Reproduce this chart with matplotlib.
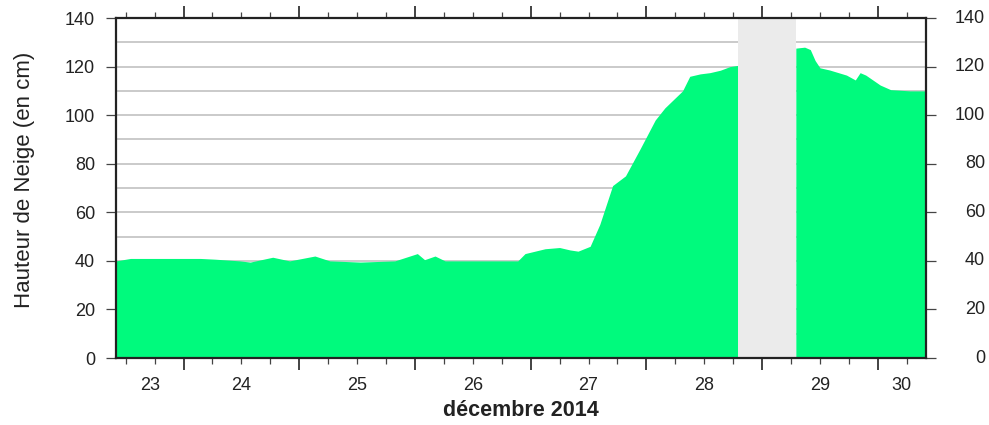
import matplotlib
matplotlib.use("Agg")
import matplotlib.pyplot as plt
import matplotlib.dates as mdates
import matplotlib.transforms as mtransforms
import numpy as np
import pandas as pd

plt.rcParams['font.family'] = ['Liberation Sans', 'DejaVu Sans']

# snow depth (cm)
times_before = ["2014-12-23 10:00", "2014-12-23 13:00", "2014-12-24 03:30", "2014-12-24 06:30",
                "2014-12-24 11:40", "2014-12-24 13:50", "2014-12-24 18:30", "2014-12-24 22:00",
                "2014-12-25 03:15", "2014-12-25 06:20", "2014-12-25 12:40", "2014-12-25 19:50",
                "2014-12-26 00:30", "2014-12-26 02:00", "2014-12-26 04:10", "2014-12-26 06:15",
                "2014-12-26 21:20", "2014-12-26 22:50", "2014-12-27 03:00", "2014-12-27 06:00",
                "2014-12-27 08:10", "2014-12-27 09:50", "2014-12-27 12:20", "2014-12-27 14:20",
                "2014-12-27 17:00", "2014-12-27 19:40", "2014-12-27 22:40", "2014-12-28 01:50",
                "2014-12-28 03:50", "2014-12-28 07:30", "2014-12-28 09:00", "2014-12-28 11:10",
                "2014-12-28 13:10", "2014-12-28 15:20", "2014-12-28 17:20", "2014-12-28 19:00"]
depth_before = [40, 41, 41, 40.7, 40, 39.5, 41.5, 40, 42, 40, 39.5, 40,
                43, 40.5, 42, 40, 40, 43, 45, 45.5, 44.5, 44, 46, 55,
                71, 75, 86, 98, 103, 110, 116, 117, 117.5, 118.5, 120, 120.5]

times_after = ["2014-12-29 07:00", "2014-12-29 08:50", "2014-12-29 10:00", "2014-12-29 11:00",
               "2014-12-29 12:00", "2014-12-29 14:00", "2014-12-29 17:30", "2014-12-29 19:20",
               "2014-12-29 20:20", "2014-12-29 21:30", "2014-12-30 00:30", "2014-12-30 02:40",
               "2014-12-30 06:40", "2014-12-30 10:00"]
depth_after = [127.6, 128, 127, 122.5, 119.5, 118.6, 116.5, 114.5,
               117.5, 116.5, 112.4, 110.5, 110, 110]

gap_start = "2014-12-28 19:00"
gap_end = "2014-12-29 07:00"
x_start = "2014-12-23 10:00"
x_end = "2014-12-30 10:00"
day_labels = ["23", "24", "25", "26", "27", "28", "29", "30"]
y_ticks = [0, 20, 40, 60, 80, 100, 120, 140]

t0 = pd.Timestamp(x_start)
t1 = pd.Timestamp(x_end)

fig = plt.figure(figsize=(9.89, 4.25), dpi=100)
ax = fig.add_axes([0.1173, 0.1576, 0.8190, 0.8000])

green = '#00fa7d'
for ts, vals in [(times_before, depth_before), (times_after, depth_after)]:
    tt = pd.to_datetime(ts)
    ax.fill_between(tt, 0, vals, color=green, linewidth=0, zorder=2)

ax.axvspan(pd.Timestamp(gap_start), pd.Timestamp(gap_end), color='#ebebeb', zorder=3, linewidth=0)

for y in range(10, 140, 10):
    ax.axhline(y, color='#bcbcbc', linewidth=1.1, zorder=1)

ax.set_xlim(t0, t1)
ax.set_ylim(0, 140)

ax.xaxis.set_major_locator(mdates.DayLocator())
ax.xaxis.set_minor_locator(mdates.HourLocator(byhour=[0, 6, 12, 18]))
ax.xaxis.set_major_formatter(plt.NullFormatter())
ax.tick_params(axis='x', which='major', direction='out', length=8.5, width=1.2,
               top=True, bottom=True, color='#222222')
ax.tick_params(axis='x', which='minor', direction='out', length=4.5, width=0.9,
               top=True, bottom=True, color='#444444')

ax.set_yticks(y_ticks)
ax.tick_params(axis='y', direction='out', length=7, width=0.9, left=True, right=True,
               labelleft=True, labelright=False, labelsize=13, color='#444444',
               labelcolor='#222222', pad=8)

# right-hand labels, right-aligned near the figure edge
blend = mtransforms.blended_transform_factory(ax.transAxes, ax.transData)
for v in y_ticks:
    ax.text(1.0728, v, str(v), transform=blend, ha='right', va='center',
            fontsize=13, color='#222222', clip_on=False)

for s in ax.spines.values():
    s.set_linewidth(1.6)
    s.set_color('#222222')
    s.set_zorder(5)

# day labels centred on the visible part of each day
days = pd.date_range("2014-12-23", periods=len(day_labels), freq="D")
for d, lab in zip(days, day_labels):
    a = max(d, t0)
    b = min(d + pd.Timedelta(days=1), t1)
    mid = a + (b - a) / 2
    ax.text(mdates.date2num(mid), -11.2, lab, ha='center', va='center', fontsize=13,
            color='#222222', clip_on=False)

ax.text(0.5, -0.153, "décembre 2014", transform=ax.transAxes, ha='center', va='center',
        fontsize=15.5, fontweight='bold', color='#222222')

ax.set_ylabel("Hauteur de Neige (en cm)", fontsize=16, color='#222222')
ax.yaxis.set_label_coords(-0.100, 0.524)

fig.savefig("out.png", dpi=100)
